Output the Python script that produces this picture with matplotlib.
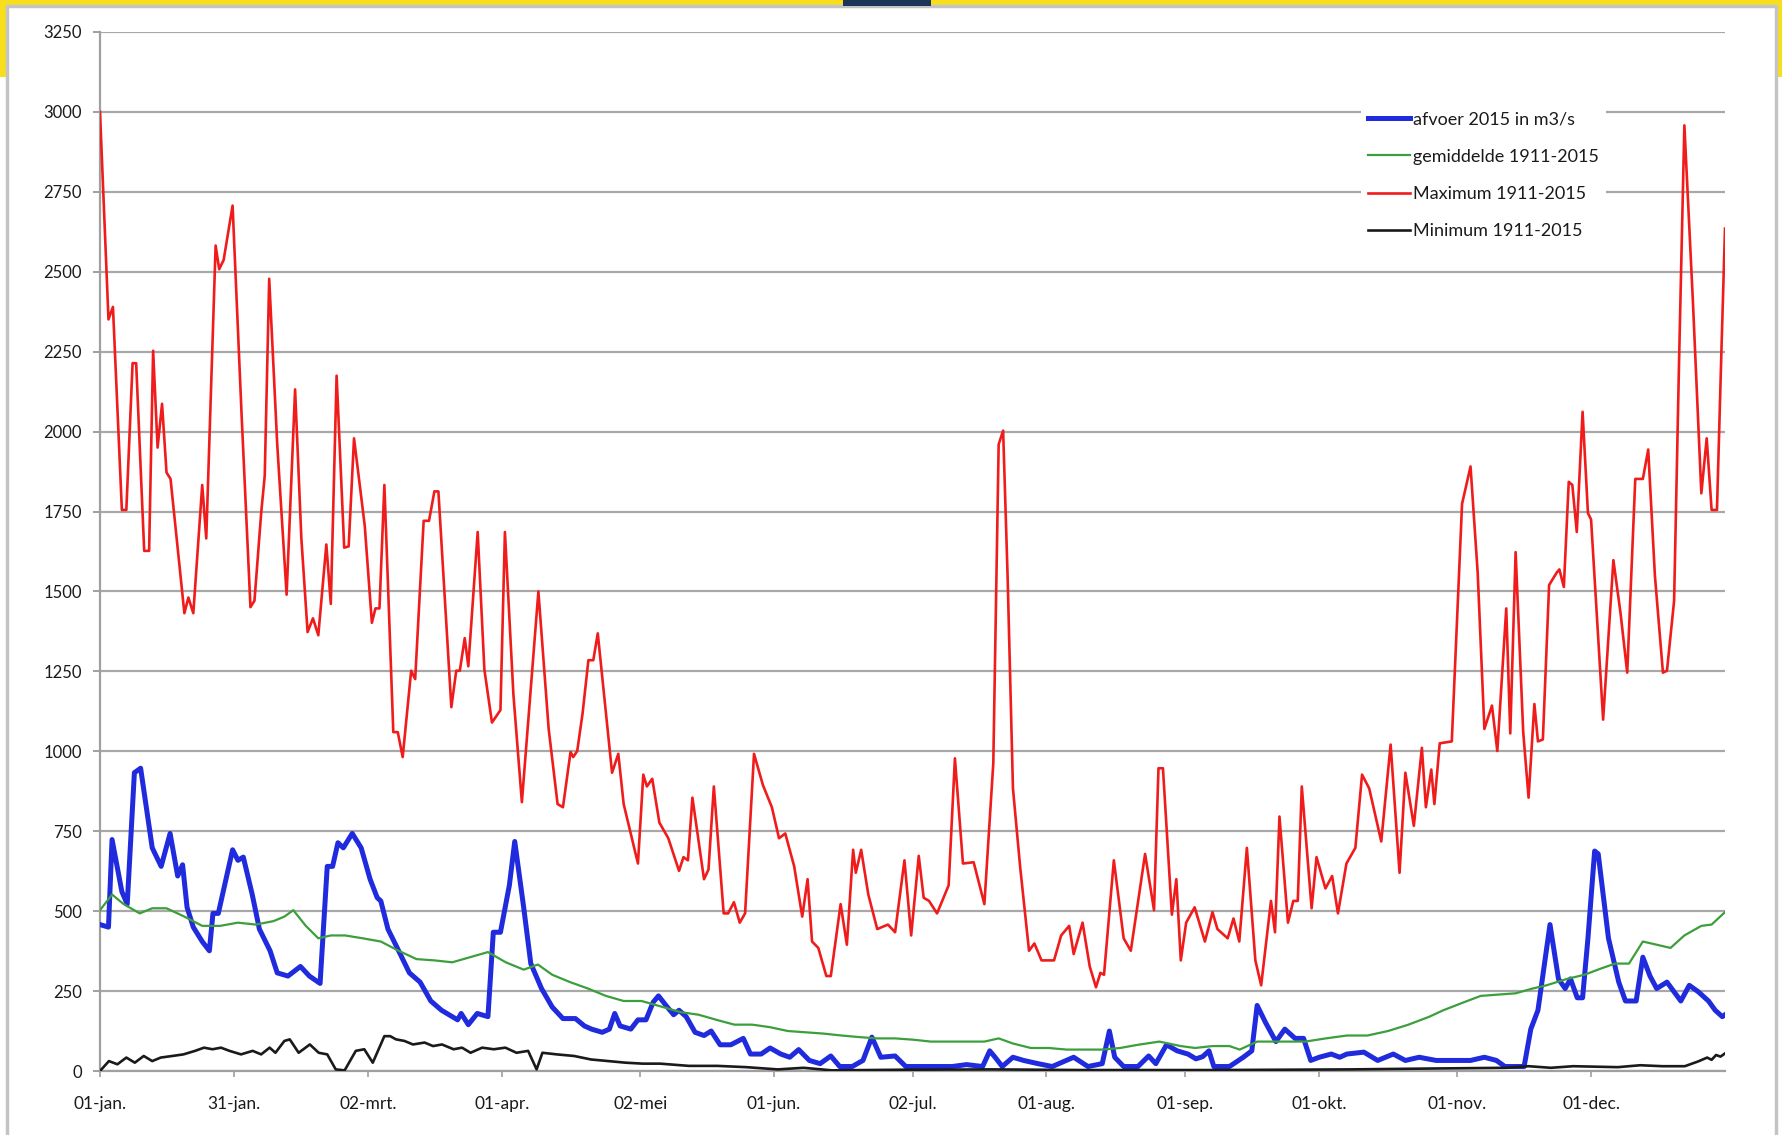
import matplotlib
matplotlib.use('Agg')
import matplotlib.pyplot as plt
from matplotlib.patches import Rectangle

plt.rcParams['font.family'] = ['Lato', 'DejaVu Sans']

# day of year (0 = 1 jan) and discharge in m3/s
afvoer_dag = [0, 1.9, 2.7, 4.9, 6.1, 7.7, 9.1, 11.7, 13.7, 15.7, 17.4, 18.5, 19.5, 20.9, 22.9, 24.5,
              25.3, 26.5, 29.7, 30.9, 32.1, 34.1, 35.7, 38.1, 39.7, 42.1, 44.9, 46.9, 49.3, 50.9,
              52.1, 53.3, 54.5, 56.5, 58.5, 60.5, 62.1, 62.9, 64.5, 66.9, 69.3, 71.7, 74.1, 76.5,
              78.9, 80.1, 80.9, 82.5, 84.5, 86.9, 88.1, 89.7, 91.7, 92.9, 94.9, 96.5, 98.9, 101.3,
              103.7, 106.5, 108.5, 110.1, 112.5, 114.1, 115.3, 116.5, 118.9, 120.5, 122.3, 123.9,
              125.1, 126.9, 128.5, 129.7, 131.3, 133.3, 135.3, 136.9, 138.9, 141.3, 144.1, 145.7,
              148.1, 150.1, 152.5, 154.5, 156.5, 158.9, 161.3, 163.7, 165.7, 168.5, 170.9, 172.9,
              174.9, 178.1, 180.5, 184.5, 187.7, 190.9, 194.1, 197.7, 199.3, 200.5, 202.1, 204.5,
              206.9, 210.1, 213.3, 218.1, 221.3, 224.5, 226.1, 227.3, 229.3, 232.5, 234.9, 236.5,
              238.9, 241.3, 243.7, 245.5, 247.0, 248.4, 249.5, 253.0, 256.1, 258.0, 259.2, 261.1,
              263.4, 265.4, 267.7, 269.6, 271.2, 273.1, 275.8, 277.7, 279.3, 283.1, 286.2, 289.7,
              292.4, 295.5, 299.3, 304.0, 307.0, 310.1, 312.8, 314.7, 319.0, 320.5, 322.1, 324.8,
              326.7, 328.2, 329.4, 330.9, 332.1, 333.3, 334.8, 335.6, 337.9, 340.2, 341.7, 344.1,
              345.6, 347.2, 348.7, 351.0, 354.1, 356.0, 358.0, 360.3, 361.8, 363.4, 364.0]
afvoer_2015 = [458, 450, 724, 561, 522, 933, 947, 698, 640, 743, 610, 645, 512, 450, 405, 376,
               493, 493, 692, 659, 669, 552, 444, 376, 307, 297, 327, 297, 274, 640,
               640, 714, 698, 743, 698, 600, 542, 532, 444, 376, 307, 278, 219, 190,
               170, 160, 180, 145, 180, 170, 434, 434, 581, 718, 512, 336, 258, 200,
               164, 164, 141, 131, 121, 131, 180, 141, 131, 160, 160, 215,
               235, 203, 176, 190, 170, 121, 111, 125, 82, 82, 102, 53,
               53, 72, 53, 43, 67, 33, 23, 47, 14, 14, 33, 106,
               43, 47, 14, 14, 14, 14, 20, 14, 63, 43, 14, 43,
               33, 23, 14, 43, 14, 23, 125, 43, 14, 14, 47, 23,
               82, 63, 53, 38, 45, 63, 14, 14, 43, 63, 205, 151,
               92, 131, 102, 102, 33, 43, 53, 43, 53, 59, 33, 53,
               33, 43, 33, 33, 33, 43, 33, 14, 14, 131, 190, 458,
               288, 258, 288, 229, 229, 415, 688, 679, 415, 278, 219, 219,
               356, 297, 258, 278, 219, 268, 248, 219, 190, 170, 176]

gem_dag = [0, 2.7, 5.3, 8.9, 11.7, 14.9, 18.9, 22.9, 26.9, 30.9, 34.9, 38.9, 41.3, 43.3, 46.1,
           48.9, 51.7, 54.9, 58.9, 62.9, 66.9, 70.9, 74.9, 78.9, 82.9, 86.9, 90.9, 94.9, 98.1,
           101.3, 105.3, 109.3, 113.3, 117.3, 121.3, 126.1, 130.1, 134.1, 138.1, 142.1, 146.1,
           150.1, 154.1, 158.1, 162.1, 166.1, 170.1, 174.1, 178.1, 182.1, 186.1, 190.1, 194.1,
           198.1, 201.3, 204.5, 208.5, 212.5, 216.5, 220.5, 224.5, 228.5, 232.5, 237.3, 242.1,
           245.3, 249.2, 253.0, 255.3, 259.2, 264.6, 270.0, 274.6, 279.3, 283.9, 288.5, 293.1,
           297.8, 300.9, 305.5, 309.3, 313.2, 317.1, 320.9, 324.0, 328.6, 332.5, 336.3, 339.4,
           342.5, 345.6, 348.7, 351.8, 354.9, 358.7, 361.0, 364.0]
gemiddelde = [503, 552, 522, 493, 509, 509, 483, 454, 454, 464, 458, 469, 483, 503, 454,
              415, 424, 424, 415, 405, 376, 350, 346, 340, 356, 372, 340, 317, 333,
              301, 278, 258, 235, 219, 219, 200, 184, 176, 160, 145, 145,
              137, 125, 121, 117, 111, 106, 102, 102, 98, 92, 92, 92,
              92, 102, 86, 72, 72, 67, 67, 67, 72, 82, 92, 78,
              72, 78, 78, 67, 92, 92, 92, 102, 111, 111, 125, 145,
              170, 190, 215, 235, 239, 243, 258, 268, 288, 301, 321, 336,
              336, 405, 395, 385, 424, 454, 458, 497]

max_dag = [0, 1.9, 2.9, 4.9, 5.9, 7.3, 8.1, 9.9, 11.0, 11.9, 12.9, 13.9, 14.9, 15.8, 18.9, 19.8,
           20.9, 22.9, 23.8, 25.9, 26.7, 27.7, 29.7, 31.7, 33.7, 34.6, 36.1, 36.9, 37.9, 39.7,
           41.8, 43.7, 45.1, 46.5, 47.7, 48.9, 50.7, 51.7, 53.0, 54.7, 55.7, 56.9, 59.3, 60.9,
           61.7, 62.6, 63.7, 65.7, 66.7, 67.8, 69.7, 70.6, 72.5, 73.7, 74.9, 75.8, 78.7, 79.8,
           80.6, 81.7, 82.5, 84.6, 86.1, 87.8, 89.7, 90.7, 92.6, 94.5, 98.2, 100.5, 102.5, 103.7,
           105.4, 106.0, 106.9, 108.1, 109.4, 110.5, 111.5, 114.7, 116.1, 117.3, 119.3, 120.5,
           121.7, 122.5, 123.7, 125.3, 127.3, 129.7, 130.7, 131.7, 132.7, 135.3, 136.3, 137.5,
           139.7, 140.7, 142.0, 143.3, 144.5, 146.5, 148.5, 150.5, 152.1, 153.5, 155.5, 157.3,
           158.5, 159.5, 160.9, 162.7, 163.7, 165.9, 167.3, 168.7, 169.3, 170.5, 172.1, 174.1,
           176.5, 178.1, 180.2, 181.7, 183.4, 184.5, 185.7, 187.5, 190.1, 191.5, 193.3, 195.7,
           198.1, 200.1, 201.3, 202.3, 203.3, 204.5, 206.1, 208.1, 209.3, 210.9, 213.7, 215.3,
           217.1, 218.1, 220.1, 221.7, 223.1, 224.1, 224.9, 227.1, 229.3, 230.9, 234.1, 236.1,
           237.1, 238.1, 240.1, 241.1, 242.1, 243.3, 245.2, 247.5, 249.2, 250.3, 252.6, 253.9,
           255.2, 256.9, 258.8, 260.1, 262.3, 263.2, 264.2, 266.1, 267.3, 268.3, 269.2, 271.4,
           272.5, 274.5, 276.0, 277.3, 279.2, 281.2, 282.7, 284.3, 287.0, 289.1, 291.1, 292.4,
           294.3, 296.1, 297.0, 298.2, 298.9, 300.1, 302.8, 305.1, 307.0, 308.6, 310.1, 311.8,
           313.0, 315.0, 315.9, 317.1, 318.8, 320.0, 321.3, 322.1, 323.2, 324.6, 326.3, 326.9,
           327.9, 329.0, 329.8, 330.8, 332.1, 333.3, 334.0, 336.7, 339.0, 340.6, 342.1, 343.9,
           345.6, 346.8, 348.3, 350.1, 351.0, 352.6, 353.7, 354.9, 356.8, 358.7, 359.9, 361.0,
           362.2, 363.2, 364.0]
maximum = [3000, 2351, 2390, 1755, 1755, 2214, 2214, 1627, 1627, 2253, 1950, 2087, 1872, 1852, 1432, 1481,
           1432, 1833, 1666, 2582, 2508, 2537, 2707, 2058, 1451, 1471, 1745, 1862, 2478, 1960,
           1490, 2132, 1667, 1373, 1416, 1363, 1647, 1461, 2175, 1637, 1641, 1979, 1706, 1402,
           1447, 1447, 1833, 1060, 1060, 982, 1252, 1226, 1721, 1721, 1813, 1813, 1138, 1252,
           1252, 1354, 1266, 1686, 1256, 1090, 1129, 1686, 1178, 841, 1500, 1070, 835, 825,
           998, 982, 1001, 1119, 1285, 1285, 1369, 933, 992, 835, 718, 649,
           927, 890, 914, 777, 728, 626, 669, 659, 855, 600, 630, 890,
           493, 493, 528, 464, 493, 992, 894, 825, 728, 743, 640, 483,
           600, 405, 385, 297, 297, 522, 395, 692, 620, 692, 552, 444,
           458, 434, 659, 424, 673, 542, 532, 493, 581, 978, 649, 653,
           522, 963, 1960, 2003, 1549, 884, 640, 376, 399, 346, 346, 424,
           454, 366, 464, 327, 262, 307, 301, 659, 415, 376, 679, 503,
           947, 947, 489, 600, 346, 464, 512, 405, 497, 444, 415, 477,
           405, 698, 346, 268, 532, 434, 796, 464, 532, 532, 890, 509,
           669, 571, 610, 493, 649, 698, 927, 884, 718, 1021, 620, 933,
           767, 1011, 825, 943, 835, 1025, 1031, 1774, 1891, 1559, 1070, 1143,
           1001, 1447, 1056, 1623, 1060, 855, 1148, 1031, 1037, 1520, 1559, 1569,
           1514, 1843, 1833, 1686, 2062, 1745, 1725, 1099, 1598, 1432, 1246, 1852,
           1852, 1944, 1549, 1246, 1252, 1471, 2214, 2958, 2410, 1807, 1979, 1755,
           1755, 2253, 2635]

min_dag = [0, 2, 3.9, 5.9, 7.8, 9.8, 11.7, 13.6, 16.2, 18.7, 21.3, 23.3, 25.2, 27.1, 29.0, 31.6,
           34.2, 36.1, 38.0, 39.3, 41.3, 42.5, 44.5, 47.0, 49.0, 50.9, 52.8, 54.8, 57.3, 59.2,
           61.1, 63.7, 65.0, 66.3, 68.2, 70.1, 72.7, 74.6, 76.6, 79.2, 81.1, 83.0, 85.6, 88.2,
           90.8, 93.3, 95.9, 97.8, 99.1, 102.3, 106.2, 110.0, 113.9, 117.7, 121.6, 125.5, 131.9,
           138.3, 144.8, 151.8, 157.6, 164.0, 180, 200, 220, 250, 280, 300, 315, 320, 325, 330,
           340, 345, 350, 355, 358, 360, 361, 362, 363, 364]
minimum = [0, 31, 21, 42, 26, 47, 31, 42, 47, 52, 63, 73, 68, 73, 63, 52,
           63, 52, 73, 57, 94, 99, 57, 83, 57, 52, 5, 2, 63, 68,
           26, 109, 109, 99, 94, 83, 89, 78, 83, 68, 73, 57, 73, 68,
           73, 57, 63, 5, 57, 52, 47, 36, 31, 26, 23, 23, 16,
           16, 12, 5, 10, 2, 4, 5, 3, 3, 5, 8, 10, 15, 10, 15,
           12, 18, 15, 15, 30, 42, 35, 50, 45, 55]

tick_dagen = [0, 30, 60, 90, 121, 151, 182, 212, 243, 273, 304, 334]
tick_labels = ['01-jan.', '31-jan.', '02-mrt.', '01-apr.', '02-mei', '01-jun.',
               '02-jul.', '01-aug.', '01-sep.', '01-okt.', '01-nov.', '01-dec.']

fig = plt.figure(figsize=(17.83, 11.35), dpi=100)

# screenshot frame: yellow strip on top, grey border of the chart area
fig.patches.append(Rectangle((0, 1 - 77 / 1135), 1, 77 / 1135, transform=fig.transFigure,
                             facecolor='#f7df1e', edgecolor='none', zorder=-3))
fig.patches.append(Rectangle((7 / 1783, -0.01), 1769 / 1783, 1 - 6 / 1135 + 0.01,
                             transform=fig.transFigure, facecolor='white',
                             edgecolor='#c4c4c4', linewidth=2.5, zorder=-2))
fig.patches.append(Rectangle((843 / 1783, 1 - 6 / 1135), 88 / 1783, 6 / 1135,
                             transform=fig.transFigure, facecolor='#1d3557',
                             edgecolor='none', zorder=-1))

ax = fig.add_axes([100 / 1783, 1 - 1071 / 1135, 1625 / 1783, 1039 / 1135])
ax.set_facecolor('none')

ax.plot(afvoer_dag, afvoer_2015, color='#1f2bdc', lw=3.6, label='afvoer 2015 in m3/s', zorder=3,
        solid_joinstyle='round')
ax.plot(gem_dag, gemiddelde, color='#3c9e3c', lw=1.6, label='gemiddelde 1911-2015', zorder=4)
ax.plot(max_dag, maximum, color='#f01c1c', lw=1.9, label='Maximum 1911-2015', zorder=5,
        solid_joinstyle='round')
ax.plot(min_dag, minimum, color='#1a1a1a', lw=1.9, label='Minimum 1911-2015', zorder=6)

ax.set_xlim(0, 364)
ax.set_ylim(0, 3250)
ax.set_yticks(range(0, 3251, 250))
ax.set_xticks(tick_dagen)
ax.set_xticklabels(tick_labels)
ax.yaxis.grid(True, color='#a8a8a8', lw=1.6)
ax.set_axisbelow(True)

for s in ['top', 'right']:
    ax.spines[s].set_visible(False)
for s in ['left', 'bottom']:
    ax.spines[s].set_color('#a0a0a0')
    ax.spines[s].set_linewidth(1.6)

ax.tick_params(axis='y', length=5, width=1.4, color='#a0a0a0', pad=8, labelsize=12, labelcolor='#1a1a1a')
ax.tick_params(axis='x', length=4, width=1.2, color='#a0a0a0', pad=14, labelsize=12.5, labelcolor='#1a1a1a')

leg = ax.legend(loc='upper left', bbox_to_anchor=(1352 / 1783, 1 - 95 / 1135),
                bbox_transform=fig.transFigure, fontsize=13, frameon=True,
                facecolor='white', edgecolor='none', framealpha=1, fancybox=False,
                handlelength=2.3, handletextpad=0.2, labelspacing=1.18, borderpad=0.4)
for t in leg.get_texts():
    t.set_color('#1a1a1a')
leg.set_zorder(10)

fig.savefig('out.png', dpi=100)
